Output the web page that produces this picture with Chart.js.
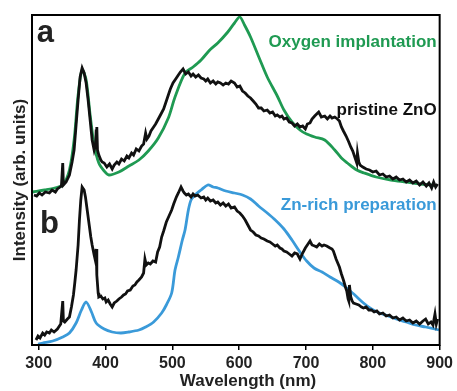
<!DOCTYPE html>
<html>
<head>
<meta charset="utf-8">
<script src="https://cdn.jsdelivr.net/npm/chart.js@4.4.0/dist/chart.umd.min.js"></script>
<style>
  html, body { margin: 0; padding: 0; background: #fff; }
  #wrap { width: 457px; height: 391px; position: relative; }
</style>
</head>
<body>
<div id="wrap"><canvas id="pl" width="457" height="391"></canvas></div>
<script>
// PL spectra, intensity in arb. units (panel a is stacked above panel b)
const xTicks = [300, 400, 500, 600, 700, 800, 900];

// a: pristine ZnO
const pristineA_nm  = [293,297,301,305,310,316,320,325,328,332,334,336,337,341,346,350,353,356,359,362,365,368,371,374,377,380,383,385,386,387,388,390,393,395,398,402,406,410,413,417,420,424,428,432,435,439,442,446,450,454,457,460,462,465,468,472,475,479,483,487,490,494,497,501,505,509,512,516,520,524,528,531,535,539,543,547,550,553,557,561,565,568,572,576,580,584,588,593,597,601,605,609,613,617,621,625,629,633,637,642,646,650,654,657,661,664,667,671,675,679,683,687,691,695,699,702,706,709,713,716,719,723,728,732,736,739,743,747,750,753,756,760,764,767,770,773,776,777,779,781,785,790,795,800,805,810,815,820,825,830,835,840,845,850,855,860,865,870,875,880,884,888,891,894,897];
const pristineA_int = [150,149,152,150,153,152,155,153,156,158,159,182,160,163,170,183,195,220,245,268,277,272,262,245,225,205,195,200,214,218,195,190,185,183,182,178,181,176,180,183,181,186,184,189,187,192,190,196,194,199,201,212,206,209,214,218,221,226,231,236,242,250,256,262,266,270,273,276,271,273,269,271,268,270,267,266,264,266,262,264,261,263,262,260,262,261,264,262,258,259,254,252,249,247,244,241,237,237,234,235,232,233,229,230,228,229,226,227,223,222,219,221,218,219,216,221,222,226,229,231,233,228,229,226,229,227,228,226,224,218,214,209,203,198,194,188,182,192,183,180,178,176,175,173,174,170,171,168,169,166,168,165,166,163,165,162,164,160,163,159,162,157,163,158,161];

// a: oxygen implantation
const oxygen_nm  = [291,309,324,336,346,353,359,365,371,377,383,390,398,405,420,435,450,464,479,494,504,519,531,543,556,568,583,593,601,608,617,630,642,657,667,679,691,701,713,728,743,753,762,776,787,805,827,850,872,887,896];
const oxygen_int = [153,155,157,160,175,205,250,275,265,230,200,182,174,170,173,179,185,194,207,227,248,272,278,285,295,302,313,322,328,320,308,287,268,249,235,223,215,211,208,205,195,187,182,175,172,168,165,163,161,160,159];

// b: pristine ZnO
const pristineB_nm  = [296,299,302,306,309,312,316,319,323,328,331,333,336,337,339,343,346,349,352,354,356,359,361,363,365,368,370,373,376,378,380,383,384,386,387,389,390,393,396,399,401,404,407,410,413,417,420,424,427,430,433,437,441,444,447,450,454,457,459,461,464,467,471,475,478,481,484,487,491,495,499,502,506,509,513,516,518,521,524,528,531,534,538,543,547,550,553,557,561,565,568,572,576,580,584,588,593,597,601,605,609,613,617,621,625,629,633,637,642,646,650,654,657,661,664,667,671,675,679,683,687,691,695,699,703,706,709,713,716,720,724,727,731,736,739,741,745,750,753,756,759,761,763,764,765,767,769,771,775,779,783,786,790,794,798,802,806,810,815,820,825,830,835,840,845,850,855,860,865,870,875,879,883,887,890,893,895,897];
const pristineB_int = [5,9,7,12,10,13,12,15,13,16,19,21,44,24,23,26,28,38,50,62,75,100,125,145,158,155,148,133,118,108,100,90,87,96,70,52,48,49,46,47,43,45,41,38,42,44,46,48,50,51,54,55,59,60,63,65,68,72,86,80,82,81,84,83,93,98,108,114,123,129,135,141,148,152,158,154,152,150,151,148,151,149,150,147,148,145,147,144,145,142,143,140,142,139,141,137,138,134,132,129,125,120,115,113,110,109,107,106,104,103,101,99,100,97,96,94,93,91,89,92,91,86,92,97,101,104,100,99,98,101,99,100,99,97,96,94,86,78,71,65,58,54,46,44,60,48,44,42,41,40,38,37,38,35,35,33,34,31,32,29,30,27,28,25,27,24,25,22,24,21,24,26,21,23,20,31,21,26];

// b: Zn-rich preparation
const znrich_nm  = [299,306,321,336,346,356,364,371,379,386,398,410,423,435,450,460,472,484,491,499,504,509,515,519,524,528,534,543,553,561,568,580,593,605,617,629,642,654,667,679,691,701,712,724,736,749,761,773,786,798,810,823,835,850,864,879,899];
const znrich_int = [1,2,4,8,12,22,35,43,33,22,16,13,12,13,15,18,23,32,40,52,75,88,105,115,135,145,150,155,160,158,157,154,152,150,146,139,132,125,116,105,93,84,77,73,68,63,57,50,42,36,32,29,26,23,20,18,15];

const BLACK = '#111111';
const GREEN = '#1f9a52';
const BLUE = '#3a9ad9';
const FONT = '"Liberation Sans", Arial, sans-serif';

function pts(xs, ys) {
    return xs.map((x, i) => ({ x: x, y: ys[i] }));
}

// frame, panel letters, curve labels, x title
const extras = {
    id: 'extras',
    afterDraw(chart) {
        const ctx = chart.ctx;
        const a = chart.chartArea;
        const xs = chart.scales.x, ys = chart.scales.y;
        ctx.save();
        ctx.strokeStyle = '#000';
        ctx.lineWidth = 2;
        ctx.strokeRect(a.left, a.top, a.right - a.left, a.bottom - a.top);

        ctx.textBaseline = 'middle';
        ctx.font = 'bold 31px ' + FONT;
        ctx.fillStyle = '#222';
        ctx.textAlign = 'left';
        ctx.fillText('a', xs.getPixelForValue(297), ys.getPixelForValue(312));
        ctx.fillText('b', xs.getPixelForValue(302), ys.getPixelForValue(121));

        ctx.font = 'bold 17px ' + FONT;
        ctx.textAlign = 'right';
        const rx = a.right - 3;
        ctx.fillStyle = GREEN;
        ctx.fillText('Oxygen implantation', rx, ys.getPixelForValue(303));
        ctx.fillStyle = BLACK;
        ctx.fillText('pristine ZnO', rx, ys.getPixelForValue(235));
        ctx.fillStyle = BLUE;
        ctx.fillText('Zn-rich preparation', rx, ys.getPixelForValue(140));

        ctx.fillStyle = '#222';
        ctx.textAlign = 'center';
        ctx.fillText('Wavelength (nm)', 248, 381);
        ctx.restore();
    }
};

new Chart(document.getElementById('pl'), {
    type: 'line',
    data: {
        datasets: [
            { label: 'pristine ZnO (a)', data: pts(pristineA_nm, pristineA_int), borderColor: BLACK, order: 0 },
            { label: 'pristine ZnO (b)', data: pts(pristineB_nm, pristineB_int), borderColor: BLACK, order: 0 },
            { label: 'Oxygen implantation', data: pts(oxygen_nm, oxygen_int), borderColor: GREEN, order: 1, tension: 0.3 },
            { label: 'Zn-rich preparation', data: pts(znrich_nm, znrich_int), borderColor: BLUE, order: 1, tension: 0.3 }
        ]
    },
    options: {
        responsive: false,
        animation: false,
        layout: { padding: { top: 15, right: 14, left: 0, bottom: 0 } },
        elements: {
            point: { radius: 0 },
            line: { borderWidth: 2.8, fill: false, tension: 0 }
        },
        plugins: { legend: { display: false }, tooltip: { enabled: false } },
        scales: {
            x: {
                type: 'linear',
                min: 290,
                max: 900,
                afterBuildTicks: s => { s.ticks = xTicks.map(v => ({ value: v })); },
                afterFit: s => { s.height = 46; },
                grid: { drawOnChartArea: false, tickLength: 5, color: '#000', lineWidth: 1.5 },
                border: { display: false },
                ticks: {
                    color: '#222',
                    padding: 4,
                    maxRotation: 0,
                    font: { family: FONT, size: 16, weight: 'bold' }
                },
                title: { display: false }
            },
            y: {
                min: 0,
                max: 330,
                afterFit: s => { s.width = 32; },
                grid: { display: false },
                border: { display: false },
                ticks: { display: false },
                title: {
                    display: true,
                    text: 'Intensity (arb. units)',
                    color: '#222',
                    padding: { top: 10, bottom: 0 },
                    font: { family: FONT, size: 17, weight: 'bold' }
                }
            }
        }
    },
    plugins: [extras]
});
</script>
</body>
</html>
